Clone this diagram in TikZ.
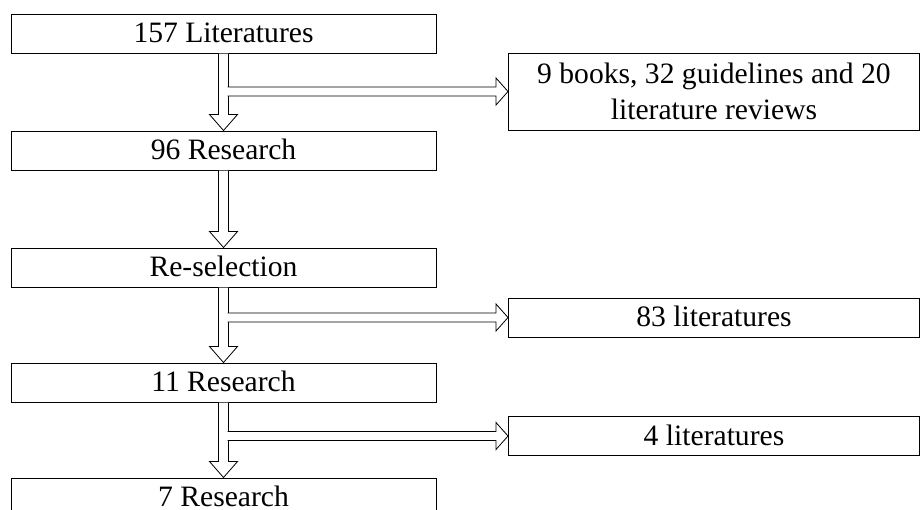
\documentclass[tikz,border=0pt]{standalone}
\usepackage{fontspec}
\setmainfont{Liberation Serif}
\usepackage{tikz}
\usetikzlibrary{positioning,calc}

\begin{document}
\begin{tikzpicture}[
  x=1pt, y=-1pt,
  node distance=77pt,
  frame/.style={draw, line width=1pt, inner sep=2pt, align=center,
                font=\fontsize{29.6}{36}\selectfont},
  box/.style={frame, minimum width=425pt, minimum height=39pt,
              text height=26.5pt, text depth=8.5pt},
  sidebox/.style={box, minimum width=411pt, anchor=west},
  bigbox/.style={frame, minimum width=411pt, minimum height=77pt, anchor=west},
  fat/.style={draw, fill=white, line width=0.8pt, line join=miter}
]
\useasboundingbox (0,0) rectangle (920,509);

\node[box] (lit)  at (223.5,33.5) {157 Literatures};
\node[box, below=of lit]  (res96)  {96 Research};
\node[box, below=of res96] (resel) {Re-selection};
\node[box, below=75pt of resel] (res11) {11 Research};
\node[box, below=75pt of res11] (res7)  {7 Research};

\node[bigbox] (books) at (508,91.5) {9 books, 32 guidelines and 20\\literature reviews};
\node[sidebox] (lit83) at (508,317.5) {83 literatures};
\node[sidebox] (lit4)  at (508,436)   {4 literatures};

% down arrows
\draw[fat] ($(lit.south)+(-5,0)$) -- ($(res96.north)+(-5,-16)$) -- ++(-9,0) -- (res96.north)
  -- ++(14,-16) -- ++(-9,0) -- ($(lit.south)+(5,0)$);
\draw[fat] ($(res96.south)+(-5,0)$) -- ($(resel.north)+(-5,-16)$) -- ++(-9,0) -- (resel.north)
  -- ++(14,-16) -- ++(-9,0) -- ($(res96.south)+(5,0)$);
\draw[fat] ($(resel.south)+(-5,0)$) -- ($(res11.north)+(-5,-16)$) -- ++(-9,0) -- (res11.north)
  -- ++(14,-16) -- ++(-9,0) -- ($(resel.south)+(5,0)$);
\draw[fat] ($(res11.south)+(-5,0)$) -- ($(res7.north)+(-5,-16)$) -- ++(-9,0) -- (res7.north)
  -- ++(14,-16) -- ++(-9,0) -- ($(res11.south)+(5,0)$);

% side arrows
\draw[fat] ($(books.west -| lit.south)+(4,-4.5)$) -- ($(books.west)+(-12,-4.5)$) -- ++(0,-9)
  -- (books.west) -- ++(-12,13.5) -- ++(0,-9) -- ($(books.west -| lit.south)+(4,4.5)$);
\draw[fat] ($(lit83.west -| resel.south)+(4,-4.5)$) -- ($(lit83.west)+(-12,-4.5)$) -- ++(0,-9)
  -- (lit83.west) -- ++(-12,13.5) -- ++(0,-9) -- ($(lit83.west -| resel.south)+(4,4.5)$);
\draw[fat] ($(lit4.west -| res11.south)+(4,-4.5)$) -- ($(lit4.west)+(-12,-4.5)$) -- ++(0,-9)
  -- (lit4.west) -- ++(-12,13.5) -- ++(0,-9) -- ($(lit4.west -| res11.south)+(4,4.5)$);
\end{tikzpicture}
\end{document}
